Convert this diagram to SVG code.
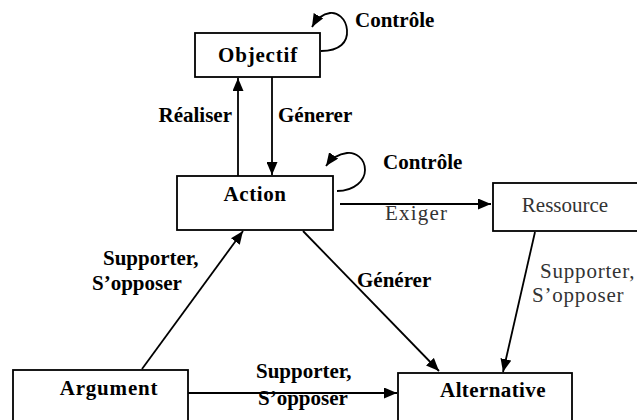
<svg xmlns="http://www.w3.org/2000/svg" width="637" height="420" viewBox="0 0 637 420">
  <style>
    .box { fill: #fff; stroke: #000; stroke-width: 1.8; }
    .edge { fill: none; stroke: #000; stroke-width: 1.8; }
    .lbl { font-size: 21px; font-weight: bold; fill: #000; }
    .lite { font-size: 21px; font-weight: normal; fill: #333; }
  </style>
  <defs>
    <marker id="arrow" markerUnits="userSpaceOnUse" markerWidth="13" markerHeight="11" refX="13" refY="5.5" orient="auto">
      <path d="M0,0 L13,5.5 L0,11 z" fill="#000"/>
    </marker>
  </defs>
  <rect width="637" height="420" fill="#fff"/>

  <g id="connectors" font-family="Liberation Serif, DejaVu Serif, Times New Roman, serif">
    <!-- Objectif self loop -->
    <path class="edge" d="M321 51 C340 51 348 42 347 30 C346 18 337 12 330 13 C322 14 316 20 312 27" marker-end="url(#arrow)"/>
    <!-- Action self loop -->
    <path class="edge" d="M337 191 C355 191 365 180 365 170 C365 158 355 152 347 153 C338 154 331 159 326 166" marker-end="url(#arrow)"/>
    <!-- Action -> Objectif (Réaliser) -->
    <path class="edge" d="M238 176 L238 78" marker-end="url(#arrow)"/>
    <!-- Objectif -> Action (Génerer) -->
    <path class="edge" d="M272 77 L272 175" marker-end="url(#arrow)"/>
    <!-- Action -> Ressource (Exiger) -->
    <path class="edge" d="M340 204 L491 204" marker-end="url(#arrow)"/>
    <!-- Action -> Alternative (Générer) -->
    <path class="edge" d="M303 231 L439 371" marker-end="url(#arrow)"/>
    <!-- Argument -> Action -->
    <path class="edge" d="M142 369 L243 231" marker-end="url(#arrow)"/>
    <!-- Ressource -> Alternative -->
    <path class="edge" d="M535 232 L503 372" marker-end="url(#arrow)"/>
    <!-- Argument -> Alternative -->
    <path class="edge" d="M188 393 L397 393" marker-end="url(#arrow)"/>

    <text class="lbl" x="355" y="27">Contrôle</text>
    <text class="lbl" x="383" y="169">Contrôle</text>
    <text class="lbl" x="232" y="122" text-anchor="end">Réaliser</text>
    <text class="lbl" x="278" y="122">Génerer</text>
    <text class="lite" x="385" y="220" letter-spacing="1.2">Exiger</text>
    <text class="lbl" x="103" y="265">Supporter,</text>
    <text class="lbl" x="92" y="290">S’opposer</text>
    <text class="lbl" x="357" y="287">Générer</text>
    <text class="lite" x="540" y="278" letter-spacing="0.8">Supporter,</text>
    <text class="lite" x="532" y="302" letter-spacing="0.8">S’opposer</text>
    <text class="lbl" x="256" y="378">Supporter,</text>
    <text class="lbl" x="258" y="405">S’opposer</text>
  </g>

  <g font-family="Liberation Serif, DejaVu Serif, Times New Roman, serif">
    <g id="objectif">
      <rect class="box" x="195" y="33" width="125" height="44"/>
      <text class="lbl" x="258" y="62" text-anchor="middle" letter-spacing="0.8">Objectif</text>
    </g>
    <g id="action">
      <rect class="box" x="177" y="176" width="156" height="54"/>
      <text class="lbl" x="255" y="201" text-anchor="middle" letter-spacing="0.6">Action</text>
    </g>
    <g id="ressource">
      <rect class="box" x="493" y="183" width="147" height="48"/>
      <text class="lite" x="565" y="212" text-anchor="middle">Ressource</text>
    </g>
    <g id="argument">
      <rect class="box" x="13" y="370" width="175" height="52"/>
      <text class="lbl" x="109" y="395" text-anchor="middle" letter-spacing="0.8">Argument</text>
    </g>
    <g id="alternative">
      <rect class="box" x="398" y="373" width="174" height="50"/>
      <text class="lbl" x="493" y="397" text-anchor="middle" letter-spacing="0.4">Alternative</text>
    </g>
  </g>
</svg>
